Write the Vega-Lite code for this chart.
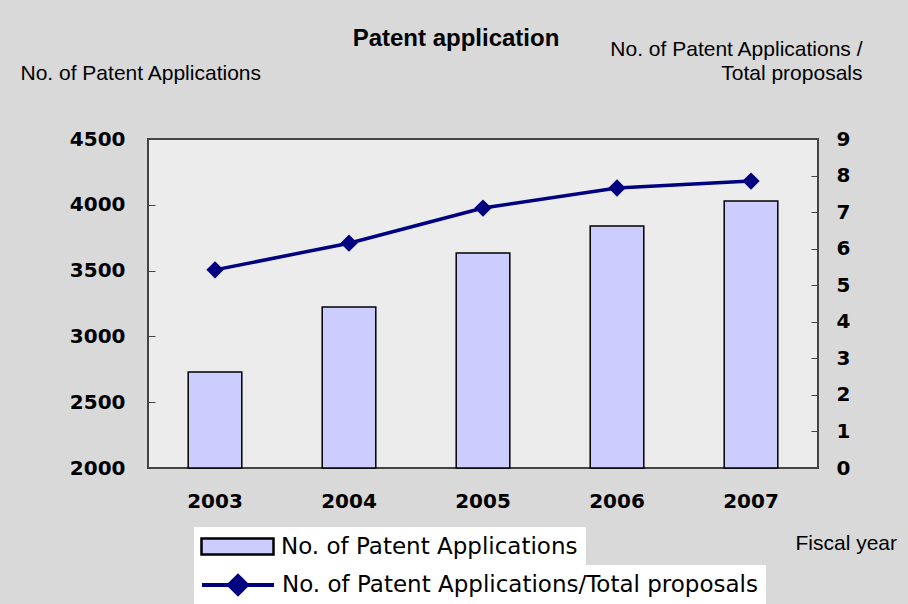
{
  "$schema": "https://vega.github.io/schema/vega-lite/v6.json",
  "width": 670,
  "height": 329,
  "autosize": "none",
  "padding": {"left": 148, "top": 139, "right": 90, "bottom": 136},
  "background": "#d9d9d9",
  "config": {
    "view": {"fill": "#ececec", "stroke": "#444444", "strokeWidth": 2}
  },
  "title": {
    "text": "Patent application",
    "font": "Liberation Sans",
    "fontSize": 24,
    "fontWeight": "bold",
    "color": "#000000",
    "anchor": "middle",
    "dx": -27,
    "dy": 17
  },
  "data": {
    "values": [
      {"year": "2003", "apps": 2729, "ratio": 5.42},
      {"year": "2004", "apps": 3223, "ratio": 6.15},
      {"year": "2005", "apps": 3634, "ratio": 7.11},
      {"year": "2006", "apps": 3839, "ratio": 7.66},
      {"year": "2007", "apps": 4029, "ratio": 7.85}
    ]
  },
  "encoding": {
    "x": {
      "field": "year",
      "type": "ordinal",
      "scale": {"paddingInner": 0.6, "paddingOuter": 0.3},
      "axis": {
        "labelAngle": 0,
        "labelFont": "DejaVu Sans",
        "labelFontSize": 20,
        "labelFontWeight": "bold",
        "labelColor": "#000000",
        "labelPadding": 23,
        "ticks": false,
        "domain": false,
        "title": "Fiscal year",
        "titleFont": "Liberation Sans",
        "titleFontSize": 21,
        "titleFontWeight": "normal",
        "titleColor": "#000000",
        "titleX": 647,
        "titleY": 75,
        "titleAlign": "left",
        "titleBaseline": "middle"
      }
    }
  },
  "layer": [
    {
      "mark": {"type": "bar", "stroke": "#000000", "strokeWidth": 1.5},
      "encoding": {
        "y": {
          "field": "apps",
          "type": "quantitative",
          "scale": {"domain": [2000, 4500], "zero": false, "nice": false},
          "axis": {
            "orient": "left",
            "values": [2000, 2500, 3000, 3500, 4000, 4500],
            "format": "d",
            "grid": false,
            "domain": false,
            "tickSize": -7,
            "tickColor": "#444444",
            "labelFont": "DejaVu Sans",
            "labelFontSize": 20,
            "labelFontWeight": "bold",
            "labelColor": "#000000",
            "labelPadding": 30,
            "title": "No. of Patent Applications",
            "titleFont": "Liberation Sans",
            "titleFontSize": 21,
            "titleFontWeight": "normal",
            "titleColor": "#000000",
            "titleAngle": 0,
            "titleX": -128,
            "titleY": -66,
            "titleAlign": "left",
            "titleBaseline": "middle"
          }
        },
        "y2": {"datum": 2000},
        "fill": {
          "datum": "No. of Patent Applications",
          "type": "nominal",
          "scale": {"domain": ["No. of Patent Applications"], "range": ["#ccccff"]},
          "legend": {
            "title": null,
            "orient": "none",
            "legendX": 46,
            "legendY": 388,
            "fillColor": "#ffffff",
            "padding": 8,
            "labelFont": "DejaVu Sans",
            "labelFontSize": 23,
            "labelColor": "#000000",
            "labelLimit": 600,
            "symbolType": "M-3.6,-0.8H3.6V0.8H-3.6Z",
            "symbolSize": 400,
            "symbolStrokeColor": "#000000",
            "symbolStrokeWidth": 2.5,
            "symbolOpacity": 1,
            "symbolOffset": 24,
            "labelOffset": 32
          }
        }
      }
    },
    {
      "encoding": {
        "y": {
          "field": "ratio",
          "type": "quantitative",
          "scale": {"domain": [0, 9], "nice": false},
          "axis": {
            "orient": "right",
            "values": [0, 1, 2, 3, 4, 5, 6, 7, 8, 9],
            "format": "d",
            "grid": false,
            "domain": false,
            "tickSize": -7,
            "tickColor": "#444444",
            "labelFont": "DejaVu Sans",
            "labelFontSize": 20,
            "labelFontWeight": "bold",
            "labelColor": "#000000",
            "labelPadding": 25,
            "title": ["No. of Patent Applications /", "Total  proposals"],
            "titleFont": "Liberation Sans",
            "titleFontSize": 21,
            "titleFontWeight": "normal",
            "titleColor": "#000000",
            "titleAngle": 0,
            "titleX": 44,
            "titleY": -101,
            "titleAlign": "right",
            "titleBaseline": "top",
            "titleLineHeight": 24
          }
        }
      },
      "layer": [
        {
          "mark": {"type": "line", "strokeWidth": 3.5},
          "encoding": {
            "stroke": {
              "datum": "No. of Patent Applications/Total proposals",
              "type": "nominal",
              "scale": {"domain": ["No. of Patent Applications/Total proposals"], "range": ["#000080"]},
              "legend": {
                "title": null,
                "orient": "none",
                "legendX": 46,
                "legendY": 426,
                "fillColor": "#ffffff",
                "padding": 8,
                "labelFont": "DejaVu Sans",
                "labelFontSize": 23,
                "labelColor": "#000000",
                "labelLimit": 600,
                "symbolType": "M-3.6,0H3.6M-0.9,0L0,-0.9L0.9,0L0,0.9Z",
                "symbolSize": 400,
                "symbolFillColor": "#000080",
                "symbolStrokeWidth": 4,
                "symbolOpacity": 1,
                "symbolOffset": 24,
                "labelOffset": 32
              }
            }
          }
        },
        {
          "mark": {"type": "point", "shape": "diamond", "filled": true, "size": 300, "opacity": 1, "color": "#000080"}
        }
      ]
    }
  ],
  "resolve": {"scale": {"y": "independent"}}
}
